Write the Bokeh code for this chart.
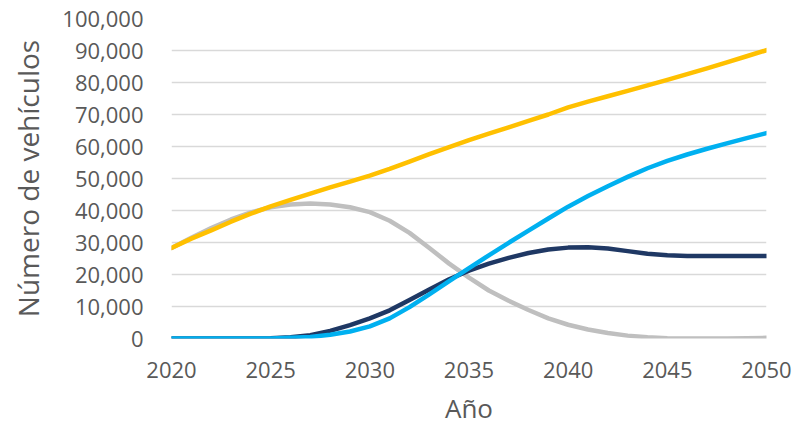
from bokeh.plotting import figure
from bokeh.models import NumeralTickFormatter, FixedTicker, Range1d
from bokeh.embed import file_html
from bokeh.resources import INLINE

years = list(range(2020, 2051))
total = [28.3, 31.2, 33.8, 36.5, 39.0, 41.3, 43.3, 45.3, 47.2, 49.0, 50.9,
         53.0, 55.3, 57.6, 59.8, 62.0, 64.0, 66.0, 68.0, 70.0, 72.2,
         74.0, 75.7, 77.4, 79.1, 80.8, 82.6, 84.4, 86.3, 88.2, 90.1]
grey = [28.3, 31.5, 34.5, 37.2, 39.4, 41.0, 41.9, 42.2, 41.9, 41.0, 39.5,
        36.8, 33.0, 28.3, 23.4, 19.0, 15.0, 11.8, 8.9, 6.3, 4.3,
        2.8, 1.7, 0.9, 0.4, 0.1, 0.0, 0.0, 0.0, 0.1, 0.2]
light = [0, 0, 0, 0, 0, 0, 0.2, 0.5, 1.2, 2.2, 3.8,
         6.3, 9.8, 13.8, 17.9, 22.0, 26.0, 29.9, 33.7, 37.5, 41.2,
         44.5, 47.6, 50.5, 53.2, 55.5, 57.5, 59.3, 61.0, 62.6, 64.2]
dark = [0, 0, 0, 0, 0, 0.1, 0.4, 1.0, 2.4, 4.2, 6.3,
        8.8, 12.0, 15.3, 18.5, 21.2, 23.4, 25.2, 26.7, 27.8, 28.4,
        28.5, 28.1, 27.3, 26.5, 26.0, 25.8, 25.8, 25.8, 25.8, 25.8]

x_ticks = [2020, 2025, 2030, 2035, 2040, 2045, 2050]
y_ticks = list(range(0, 100001, 10000))

FONT = "Open Sans"
TXT = "#595959"

p = figure(frame_width=595, frame_height=320, output_backend="svg",
           toolbar_location=None,
           x_range=Range1d(2020, 2050), y_range=Range1d(0, 100000),
           min_border_left=171, min_border_right=38, min_border_top=18,
           min_border_bottom=78)
p.outline_line_color = None

series = [(grey, "#BFBFBF"), (total, "#FFC000"), (dark, "#1F3864"), (light, "#00B0F0")]
for vals, col in series:
    p.line(years, [v * 1000 for v in vals], line_color=col, line_width=4.5,
           line_cap="round", line_join="round")

p.xaxis.ticker = FixedTicker(ticks=x_ticks)
p.yaxis.ticker = FixedTicker(ticks=y_ticks)
p.yaxis.formatter = NumeralTickFormatter(format="0,0")
p.xgrid.grid_line_color = None
p.ygrid.grid_line_color = "#D9D9D9"
p.ygrid.grid_line_width = 1.3

for ax in (p.xaxis[0], p.yaxis[0]):
    ax.axis_line_color = None
    ax.major_tick_line_color = None
    ax.minor_tick_line_color = None
    ax.major_label_text_font = FONT
    ax.major_label_text_font_size = "22px"
    ax.major_label_text_color = TXT
    ax.axis_label_text_font = FONT
    ax.axis_label_text_color = TXT
    ax.axis_label_text_font_style = "normal"

p.yaxis.axis_label_text_font_size = "28px"
p.xaxis.axis_label_text_font_size = "26px"
p.yaxis.axis_label = "Número de vehículos"
p.xaxis.axis_label = "Año"
p.yaxis.major_label_standoff = 22
p.xaxis.major_label_standoff = 17
p.yaxis.axis_label_standoff = 12
p.xaxis.axis_label_standoff = 9

open("out.html", "w").write(file_html(p, INLINE))
